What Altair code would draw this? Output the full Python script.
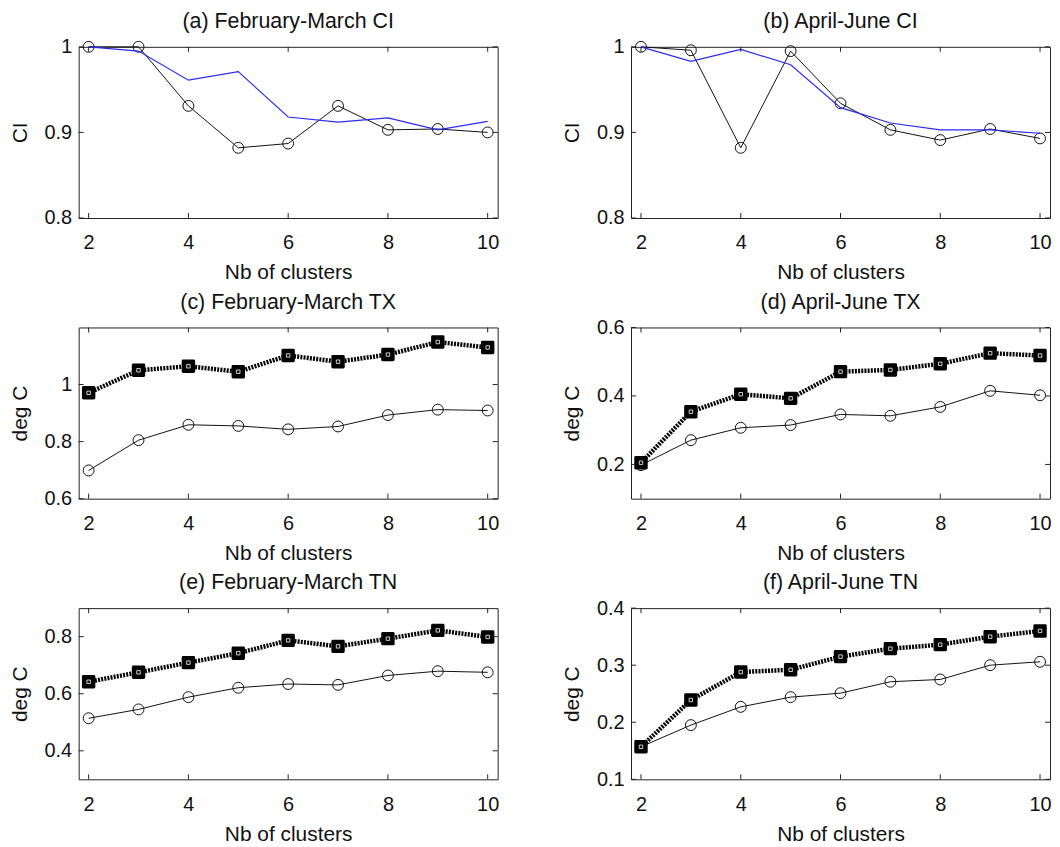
import altair as alt
import pandas as pd

# ---------------- data ----------------
clusters = [2, 3, 4, 5, 6, 7, 8, 9, 10]
x_ticks = [2, 4, 6, 8, 10]

a_circle = [1.000, 1.000, 0.931, 0.882, 0.887, 0.931, 0.903, 0.904, 0.900]
a_blue = [1.000, 0.995, 0.961, 0.971, 0.918, 0.912, 0.917, 0.903, 0.913]
b_circle = [1.000, 0.996, 0.882, 0.995, 0.934, 0.903, 0.891, 0.904, 0.893]
b_blue = [1.000, 0.983, 0.997, 0.979, 0.929, 0.911, 0.903, 0.903, 0.899]
c_square = [0.971, 1.050, 1.064, 1.045, 1.102, 1.080, 1.105, 1.149, 1.130]
c_circle = [0.699, 0.805, 0.859, 0.855, 0.843, 0.853, 0.893, 0.912, 0.909]
d_square = [0.205, 0.354, 0.405, 0.393, 0.471, 0.476, 0.494, 0.525, 0.518]
d_circle = [0.198, 0.271, 0.307, 0.315, 0.346, 0.342, 0.368, 0.415, 0.402]
e_square = [0.642, 0.675, 0.709, 0.742, 0.787, 0.766, 0.793, 0.822, 0.799]
e_circle = [0.514, 0.545, 0.588, 0.621, 0.634, 0.631, 0.664, 0.679, 0.675]
f_square = [0.157, 0.239, 0.288, 0.292, 0.315, 0.329, 0.336, 0.350, 0.360]
f_circle = [0.157, 0.195, 0.227, 0.244, 0.251, 0.271, 0.275, 0.300, 0.306]

titles = ["(a) February-March CI", "(b) April-June CI",
          "(c) February-March TX", "(d) April-June TX",
          "(e) February-March TN", "(f) April-June TN"]
ylabels = ["CI", "CI", "deg C", "deg C", "deg C", "deg C"]
xlabel = "Nb of clusters"
ydomains = [[0.8, 1.0], [0.8, 1.0], [0.6, 1.2], [0.1, 0.6], [0.3, 0.9], [0.1, 0.4]]
yticks = [[0.8, 0.9, 1.0], [0.8, 0.9, 1.0], [0.6, 0.8, 1.0],
          [0.2, 0.4, 0.6], [0.4, 0.6, 0.8], [0.1, 0.2, 0.3, 0.4]]

W, H = 421, 172
FONT = "Liberation Sans"
TK = 5  # inward tick length
INK = "#111"


def make_panel(title, ylabel, ydomain, ytick, circle_vals, blue_vals=None, square_vals=None):
    xs = alt.Scale(domain=[1.8, 10.2], nice=False, zero=False)
    ys = alt.Scale(domain=ydomain, nice=False, zero=False)
    xenc = alt.X("x:Q", scale=xs,
                 axis=alt.Axis(values=x_ticks, title=xlabel, format="d",
                               ticks=False, grid=False, domain=False,
                               labelPadding=15, titlePadding=9,
                               labelFontSize=20, titleFontSize=21))
    yenc = alt.Y("y:Q", scale=ys,
                 axis=alt.Axis(values=ytick, title=ylabel, format="~g",
                               ticks=False, grid=False, domain=False,
                               labelPadding=7, titlePadding=14,
                               labelFontSize=20, titleFontSize=21))

    layers = []
    dfc = pd.DataFrame({"x": clusters, "y": circle_vals})

    layers.append(alt.Chart(dfc).mark_line(color=INK, strokeWidth=1).encode(x=xenc, y=yenc))
    layers.append(alt.Chart(dfc).mark_point(shape="circle", filled=False, size=120,
                                            stroke=INK, strokeWidth=1, opacity=1)
                  .encode(x=xenc, y=yenc))
    if blue_vals is not None:
        dfb = pd.DataFrame({"x": clusters, "y": blue_vals})
        layers.append(alt.Chart(dfb).mark_line(color="#2a2af0", strokeWidth=1.2)
                      .encode(x=xenc, y=yenc))
    if square_vals is not None:
        dfs = pd.DataFrame({"x": clusters, "y": square_vals})
        layers.append(alt.Chart(dfs).mark_line(color="#000", strokeWidth=4.5, strokeDash=[2, 1.2])
                      .encode(x=xenc, y=yenc))
        layers.append(alt.Chart(dfs).mark_point(shape="square", filled=True, size=110,
                                                fill="#000", stroke="#000", strokeWidth=3,
                                                strokeJoin="round", opacity=1)
                      .encode(x=xenc, y=yenc))
        layers.append(alt.Chart(dfs).mark_point(shape="square", filled=False, size=12,
                                                stroke="#fff", strokeWidth=0.8, opacity=1)
                      .encode(x=xenc, y=yenc))

    # inward ticks (MATLAB style) on all four sides
    dxt = pd.DataFrame({"x": x_ticks})
    dyt = pd.DataFrame({"y": ytick})
    layers.append(alt.Chart(dxt).mark_rule(color="#222", strokeWidth=1)
                  .encode(x=xenc, y=alt.value(H), y2=alt.value(H - TK)))
    layers.append(alt.Chart(dxt).mark_rule(color="#222", strokeWidth=1)
                  .encode(x=xenc, y=alt.value(0), y2=alt.value(TK)))
    layers.append(alt.Chart(dyt).mark_rule(color="#222", strokeWidth=1)
                  .encode(y=yenc, x=alt.value(0), x2=alt.value(TK)))
    layers.append(alt.Chart(dyt).mark_rule(color="#222", strokeWidth=1)
                  .encode(y=yenc, x=alt.value(W), x2=alt.value(W - TK)))

    # panel title as text placed above the plot area
    dft = pd.DataFrame({"t": [title]})
    layers.append(alt.Chart(dft).mark_text(fontSize=21.5, font=FONT, color=INK,
                                           align="center", baseline="alphabetic")
                  .encode(x=alt.value(W / 2), y=alt.value(-19), text="t:N"))

    return alt.layer(*layers).properties(width=W, height=H)


panels = [
    make_panel(titles[0], ylabels[0], ydomains[0], yticks[0], a_circle, blue_vals=a_blue),
    make_panel(titles[1], ylabels[1], ydomains[1], yticks[1], b_circle, blue_vals=b_blue),
    make_panel(titles[2], ylabels[2], ydomains[2], yticks[2], c_circle, square_vals=c_square),
    make_panel(titles[3], ylabels[3], ydomains[3], yticks[3], d_circle, square_vals=d_square),
    make_panel(titles[4], ylabels[4], ydomains[4], yticks[4], e_circle, square_vals=e_square),
    make_panel(titles[5], ylabels[5], ydomains[5], yticks[5], f_circle, square_vals=f_square),
]

chart = alt.concat(*panels, columns=2, spacing={"row": 110, "column": 134}, bounds="flush") \
    .properties(padding={"left": 0, "top": 0, "right": 0, "bottom": 0}) \
    .configure(font=FONT) \
    .configure_view(stroke="#222", strokeWidth=1) \
    .configure_axis(labelColor=INK, titleColor=INK, titleFontWeight="normal",
                    labelFont=FONT, titleFont=FONT)

chart.save("out.html", embed_options={"renderer": "svg", "actions": False})
